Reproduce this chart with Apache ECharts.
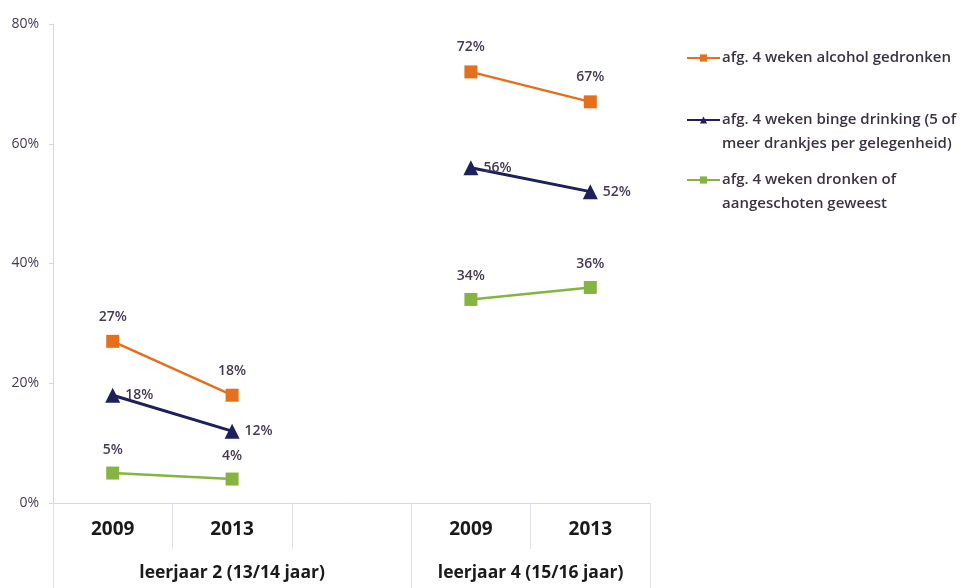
<!DOCTYPE html>
<html>
<head>
<meta charset="utf-8">
<script src="https://cdn.jsdelivr.net/npm/echarts@6/dist/echarts.min.js"></script>
<style>
html,body{margin:0;padding:0;background:#fff;}
#chart{width:965px;height:588px;}
</style>
</head>
<body>
<div id="chart"></div>
<script>
const categories = ['2009', '2013', '', '2009', '2013'];
const groups = ['leerjaar 2 (13/14 jaar)', 'leerjaar 4 (15/16 jaar)'];
const groupSizes = [3, 2];
const seriesNames = [
  'afg. 4 weken alcohol gedronken',
  'afg. 4 weken binge drinking (5 of\nmeer drankjes per gelegenheid)',
  'afg. 4 weken dronken of\naangeschoten geweest'
];
const alcohol = [27, 18, null, 72, 67];
const binge = [18, 12, null, 56, 52];
const drunk = [5, 4, null, 34, 36];
const yMin = 0, yMax = 80, yStep = 20;

const FONT = 'Open Sans';
const labelColor = '#463a55';
const colors = ['#E66F1C', '#1E205C', '#86B440'];

// group boundaries and centres derived from group sizes
const boundaries = [0];
groupSizes.forEach(s => boundaries.push(boundaries[boundaries.length - 1] + s));
const centres = groupSizes.map((s, i) => boundaries[i] + s / 2);

const chart = echarts.init(document.getElementById('chart'));

function legendFor(i, top) {
  const multi = seriesNames[i].indexOf('\n') >= 0;
  return {
    data: [seriesNames[i]],
    left: 686,
    top: top,
    orient: 'vertical',
    itemWidth: 33,
    itemHeight: 9,
    itemGap: 0,
    padding: 0,
    formatter: n => multi ? '\n' + n : n,
    textStyle: { fontFamily: FONT, fontSize: 15, fontWeight: 600, color: '#3b3344', lineHeight: 24, padding: [0, 0, 0, -3] },
    selectedMode: false
  };
}

chart.setOption({
  animation: false,
  backgroundColor: '#fff',
  color: colors,
  grid: { left: 53, right: 315, top: 24, bottom: 85, containLabel: false },
  legend: [legendFor(0, 46), legendFor(1, 84), legendFor(2, 144)],
  xAxis: [
    {
      type: 'category',
      data: categories,
      boundaryGap: true,
      axisLine: { show: true, lineStyle: { color: '#d4d8e2', width: 1 } },
      axisTick: { show: true, interval: 0, length: 46, lineStyle: { color: '#dfe2ea' } },
      axisLabel: { interval: 0, margin: 17, fontFamily: FONT, fontSize: 19, fontWeight: 700, color: '#1a1a1a' }
    },
    {
      type: 'value',
      min: boundaries[0],
      max: boundaries[boundaries.length - 1],
      position: 'bottom',
      axisLine: { show: false },
      splitLine: { show: false },
      axisTick: { show: true, customValues: boundaries, length: 90, lineStyle: { color: '#dfe2ea' } },
      axisLabel: {
        customValues: centres,
        margin: 61,
        fontFamily: FONT, fontSize: 17.5, fontWeight: 700, color: '#1a1a1a',
        formatter: v => { const k = centres.indexOf(v); return k >= 0 ? groups[k] : ''; }
      }
    }
  ],
  yAxis: {
    type: 'value',
    min: yMin, max: yMax, interval: yStep,
    axisLine: { show: true, lineStyle: { color: '#d4d8e2' } },
    axisTick: { show: true, length: 4, lineStyle: { color: '#d4d8e2' } },
    splitLine: { show: false },
    axisLabel: { formatter: '{value}%', margin: 14, fontFamily: FONT, fontSize: 14, color: labelColor }
  },
  series: [
    {
      name: seriesNames[0], type: 'line', data: alcohol, connectNulls: false,
      symbol: 'rect', symbolSize: 13,
      lineStyle: { width: 2.5, color: colors[0] }, itemStyle: { color: colors[0] },
      label: { show: true, position: 'top', distance: 11, formatter: '{c}%', fontFamily: FONT, fontSize: 14, fontWeight: 600, color: labelColor }
    },
    {
      name: seriesNames[1], type: 'line', data: binge, connectNulls: false,
      symbol: 'triangle', symbolSize: 15,
      lineStyle: { width: 3, color: colors[1] }, itemStyle: { color: colors[1] },
      label: { show: true, position: 'right', distance: 5, formatter: '{c}%', fontFamily: FONT, fontSize: 14, fontWeight: 600, color: labelColor }
    },
    {
      name: seriesNames[2], type: 'line', data: drunk, connectNulls: false,
      symbol: 'rect', symbolSize: 13,
      lineStyle: { width: 2.5, color: colors[2] }, itemStyle: { color: colors[2] },
      label: { show: true, position: 'top', distance: 10, formatter: '{c}%', fontFamily: FONT, fontSize: 14, fontWeight: 600, color: labelColor }
    }
  ]
});
</script>
</body>
</html>
